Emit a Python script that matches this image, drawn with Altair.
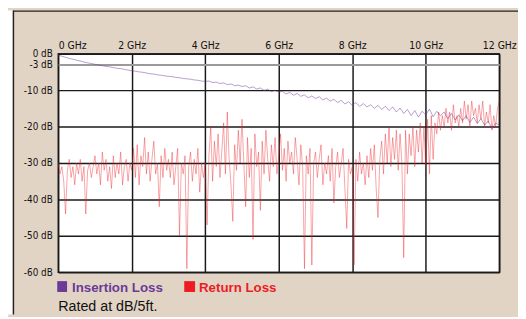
import altair as alt
import pandas as pd

# ---------------- data ----------------
x_ticks = [0, 2, 4, 6, 8, 10, 12]
y_ticks = [0, -3, -10, -20, -30, -40, -50, -60]
series_names = ["Insertion Loss", "Return Loss"]
series_colors = ["#6b3a99", "#ed1c24"]
note_text = "Rated at dB/5ft."

il_step = 0.1  # GHz between insertion-loss samples
insertion_loss = [
    -0.4, -0.7, -1.0, -1.3, -1.5, -1.8, -2.0, -2.3, -2.5, -2.7,
    -2.9, -3.1, -3.3, -3.5, -3.6, -3.8, -4.0, -4.1, -4.3, -4.5,
    -4.7, -4.8, -5.0, -5.1, -5.3, -5.5, -5.6, -5.8, -5.9, -6.1,
    -6.2, -6.3, -6.5, -6.6, -6.8, -6.9, -7.0, -7.2, -7.3, -7.5,
    -7.6, -7.5, -7.9, -7.8, -8.2, -8.0, -8.5, -8.3, -8.8, -8.6,
    -9.0, -8.8, -9.4, -9.1, -9.7, -9.4, -10.1, -9.7, -10.4, -10.0,
    -10.6, -10.3, -11.1, -10.6, -11.4, -10.9, -11.7, -11.3, -12.1, -11.6,
    -12.3, -11.8, -12.7, -12.2, -13.0, -12.5, -13.4, -12.8, -13.8, -13.2,
    -14.2, -13.4, -14.5, -13.7, -14.6, -14.0, -15.0, -14.2, -15.3, -14.4,
    -15.6, -14.6, -16.0, -14.9, -16.4, -15.3, -17.0, -15.6, -17.4, -15.8,
    -16.8, -15.2, -17.3, -15.8, -17.0, -16.0, -17.8, -16.4, -18.2, -16.8,
    -18.4, -17.0, -18.9, -17.4, -19.2, -17.8, -19.6, -18.5, -20.6, -19.0,
    -19.6,
]

rl_step = 0.05  # GHz between return-loss samples
return_loss = [
    -30, -33, -31, -35, -44, -32, -29, -34, -31, -36, -30, -33, -29, -35, -31, -44, -32, -30, -34, -31,
    -28, -33, -30, -36, -27, -32, -29, -35, -31, -37, -28, -34, -30, -33, -27, -36, -31, -29, -35, -30,
    -32, -26, -34, -25, -36, -28, -31, -23, -33, -27, -35, -29, -24, -33, -30, -42, -28, -34, -26, -32,
    -29, -34, -27, -36, -31, -26, -50, -30, -33, -28, -59, -31, -27, -35, -29, -33, -26, -38, -30, -34,
    -30, -47, -28, -20, -35, -24, -31, -22, -34, -27, -19, -33, -16, -29, -36, -46, -25, -32, -21, -30,
    -18, -30, -42, -23, -34, -26, -51, -22, -31, -27, -43, -24, -33, -21, -29, -35, -25, -31, -23, -33,
    -28, -22, -32, -26, -35, -24, -30, -27, -33, -23, -29, -36, -25, -31, -59, -28, -33, -26, -58, -30,
    -27, -34, -29, -25, -36, -30, -33, -28, -35, -26, -41, -31, -27, -34, -30, -26, -37, -48, -29, -33,
    -31, -58, -29, -35, -27, -33, -30, -36, -28, -34, -26, -32, -25, -37, -45, -29, -24, -33, -22, -30,
    -20, -31, -23, -29, -21, -32, -22, -30, -56, -21, -33, -22, -28, -20, -31, -21, -27, -19, -30, -20,
    -31, -18, -33, -17, -29, -19, -22, -16, -21, -17, -20, -15, -19, -16, -21, -14, -19, -17, -20, -15,
    -19, -13, -18, -14, -20, -13, -17, -15, -19, -14, -18, -13, -20, -16, -19, -14, -21, -17, -20, -15, -13,
]

il_df = pd.DataFrame({"freq": [round(i * il_step, 2) for i in range(len(insertion_loss))],
                      "db": insertion_loss})
rl_df = pd.DataFrame({"freq": [round(i * rl_step, 2) for i in range(len(return_loss))],
                      "db": return_loss})

# ---------------- layout ----------------
W, H = 448, 222
PAD_L, PAD_T, PAD_R, PAD_B = 51, 44, 19, 43
BEIGE = "#e2d4c4"
COND_FONT = "Liberation Sans Narrow, DejaVu Sans Condensed, Roboto Condensed, Arial Narrow, sans-serif"
FONT = "Liberation Sans, Arial, Helvetica, sans-serif"

x_scale = alt.Scale(domain=[0, 12], nice=False, zero=False)
y_scale = alt.Scale(domain=[-60, 0], nice=False, zero=False)

x_axis = alt.Axis(
    orient="top", values=x_ticks, labelExpr="datum.value + ' GHz'", title=None,
    ticks=False, domain=False, labelPadding=3, labelFontSize=10.5, labelFont=COND_FONT,
    labelColor="#111", labelFlush=False,
    labelAlign={"condition": {"test": "datum.value == 0", "value": "left"}, "value": "center"},
    grid=True, gridColor="#1a1a1a", gridWidth=1.5, gridOpacity=1,
)
y_axis = alt.Axis(
    values=y_ticks, labelExpr="datum.value + ' dB'", title=None,
    ticks=False, domain=False, labelPadding=6, labelFontSize=10, labelFont=COND_FONT,
    labelColor="#111", labelFlush=False, labelOverlap=False,
    grid=True, gridOpacity=1,
    gridColor={"condition": {"test": "datum.value == -3", "value": "#9a9a9a"}, "value": "#1a1a1a"},
    gridWidth={"condition": {"test": "datum.value == -3", "value": 2}, "value": 1.5},
)

one = pd.DataFrame({"k": [0]})

il_line = alt.Chart(il_df).mark_line(
    color=series_colors[0], strokeWidth=0.9, opacity=0.55
).encode(
    x=alt.X("freq:Q", scale=x_scale, axis=x_axis),
    y=alt.Y("db:Q", scale=y_scale, axis=y_axis),
)

rl_line = alt.Chart(rl_df).mark_line(
    color=series_colors[1], strokeWidth=0.8, opacity=0.5
).encode(
    x=alt.X("freq:Q", scale=x_scale, axis=x_axis),
    y=alt.Y("db:Q", scale=y_scale, axis=y_axis),
)

# page frame: white strip + dark border at left/top
white_strip = alt.Chart(one).mark_rect(color="white").encode(
    x=alt.value(-PAD_L), x2=alt.value(-46), y=alt.value(-PAD_T), y2=alt.value(H + PAD_B)
)
left_rule = alt.Chart(one).mark_rule(color="#222", strokeWidth=1.5).encode(
    x=alt.value(-45.5), y=alt.value(-PAD_T), y2=alt.value(H + PAD_B)
)
top_rule = alt.Chart(one).mark_rule(color="#222", strokeWidth=1.5).encode(
    x=alt.value(-45.5), x2=alt.value(W + PAD_R), y=alt.value(-PAD_T + 0.75)
)

# legend
leg_df0 = pd.DataFrame({"name": [series_names[0]]})
leg_df1 = pd.DataFrame({"name": [series_names[1]]})
sq0 = alt.Chart(one).mark_rect(color=series_colors[0]).encode(
    x=alt.value(-1), x2=alt.value(9), y=alt.value(231), y2=alt.value(242)
)
sq1 = alt.Chart(one).mark_rect(color=series_colors[1]).encode(
    x=alt.value(128), x2=alt.value(139), y=alt.value(231), y2=alt.value(242)
)
t0 = alt.Chart(leg_df0).mark_text(
    align="left", baseline="alphabetic", font=FONT, fontSize=13.5, fontWeight="bold",
    color=series_colors[0]
).encode(x=alt.value(14), y=alt.value(242.5), text="name:N")
t1 = alt.Chart(leg_df1).mark_text(
    align="left", baseline="alphabetic", font=FONT, fontSize=13.5, fontWeight="bold",
    color=series_colors[1]
).encode(x=alt.value(143), y=alt.value(242.5), text="name:N")
note = alt.Chart(pd.DataFrame({"t": [note_text]})).mark_text(
    align="left", baseline="alphabetic", font=FONT, fontSize=14.5, color="#111"
).encode(x=alt.value(0), y=alt.value(261), text="t:N")

chart = alt.layer(
    il_line, rl_line, white_strip, left_rule, top_rule, sq0, sq1, t0, t1, note
).properties(
    width=W, height=H,
    autosize=alt.AutoSizeParams(type="none"),
    padding={"left": PAD_L, "top": PAD_T, "right": PAD_R, "bottom": PAD_B},
    background=BEIGE,
).configure_view(
    fill="white", stroke="#333", strokeWidth=1.5
)

chart.save("out.html", embed_options={"renderer": "svg", "actions": False})
